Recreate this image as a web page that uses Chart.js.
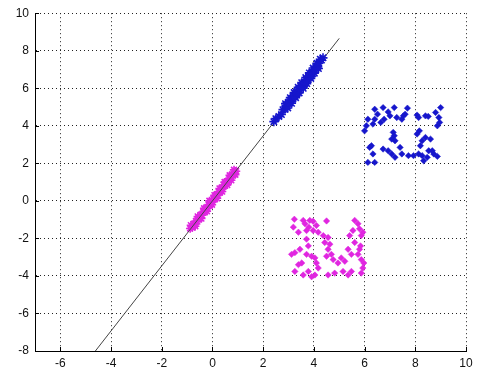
<!DOCTYPE html>
<html>
<head>
<meta charset="utf-8">
<script src="https://cdn.jsdelivr.net/npm/chart.js@4.4.0/dist/chart.umd.min.js"></script>
<style>
  html, body { margin: 0; padding: 0; background: #fff; }
</style>
</head>
<body>
<canvas id="grafico" width="480" height="374"></canvas>
<script>
const xTicks = [-6, -4, -2, 0, 2, 4, 6, 8, 10];
const yTicks = [-8, -6, -4, -2, 0, 2, 4, 6, 8, 10];

// fitted line
const lineX = [-5, 5];
const lineY = [-8.66, 8.66];

// blue asterisks along the line
const blueStarX = [2.42, 2.5, 2.62, 2.72, 2.78, 2.85, 2.88, 2.9, 2.95, 2.97, 3.0, 3.05, 3.07, 3.1, 3.12, 3.15, 3.2, 3.22, 3.25, 3.28, 3.3, 3.35, 3.38, 3.4, 3.42, 3.45, 3.5, 3.52, 3.55, 3.58, 3.6, 3.65, 3.68, 3.7, 3.72, 3.75, 3.8, 3.82, 3.85, 3.88, 3.9, 3.95, 3.97, 4.0, 4.02, 4.05, 4.1, 4.12, 4.15, 4.18, 4.2, 4.25, 4.3, 4.36];
const blueStarY = [4.22, 4.38, 4.5, 4.6, 4.86, 4.88, 5.18, 5.09, 5.06, 4.95, 5.26, 5.22, 5.5, 5.43, 5.2, 5.4, 5.6, 5.77, 5.57, 5.5, 5.78, 5.74, 6.05, 5.95, 5.75, 5.92, 6.12, 6.3, 6.09, 6.0, 6.3, 6.26, 6.57, 6.47, 6.25, 6.44, 6.64, 6.82, 6.61, 6.52, 6.81, 6.78, 7.08, 6.99, 6.8, 6.95, 7.16, 7.33, 7.13, 7.05, 7.33, 7.55, 7.5, 7.62];

// magenta asterisks along the line
const magStarX = [-0.88, -0.85, -0.8, -0.74, -0.7, -0.68, -0.65, -0.6, -0.58, -0.55, -0.5, -0.46, -0.44, -0.41, -0.36, -0.33, -0.3, -0.26, -0.22, -0.2, -0.15, -0.12, -0.1, -0.05, -0.02, 0.0, 0.04, 0.08, 0.1, 0.14, 0.18, 0.2, 0.25, 0.28, 0.3, 0.35, 0.38, 0.4, 0.45, 0.48, 0.5, 0.55, 0.58, 0.6, 0.66, 0.68, 0.7, 0.74, 0.76, 0.82, 0.85, 0.88, 0.9, 0.93];
const magStarY = [-1.47, -1.3, -1.42, -1.22, -1.27, -1.35, -1.08, -1.1, -0.83, -0.9, -0.93, -0.74, -0.94, -0.77, -0.57, -0.4, -0.58, -0.4, -0.55, -0.41, -0.2, 0.0, -0.23, -0.03, -0.2, -0.06, 0.12, 0.3, 0.11, 0.3, 0.14, 0.29, 0.49, 0.66, 0.46, 0.66, 0.5, 0.63, 0.84, 1.0, 0.81, 1.0, 0.85, 0.98, 1.2, 1.36, 1.15, 1.1, 1.37, 1.38, 1.65, 1.57, 1.4, 1.58];

// blue diamonds cluster
const blueDiaX = [6.4, 6.51, 6.73, 7.17, 7.69, 6.93, 7.0, 6.77, 6.64, 6.13, 6.33, 6.07, 6.0, 6.4, 7.27, 7.53, 7.6, 7.47, 8.07, 8.13, 8.4, 8.51, 8.8, 9.0, 8.93, 8.87, 8.96, 7.13, 7.17, 7.07, 7.2, 6.27, 6.2, 6.33, 6.73, 6.93, 7.07, 7.2, 7.4, 7.47, 7.73, 7.93, 8.13, 8.27, 8.33, 8.47, 8.53, 8.67, 8.73, 8.87, 8.2, 8.27, 8.4, 8.6, 8.16, 8.07, 6.13, 6.4];
const blueDiaY = [4.88, 4.62, 4.97, 4.97, 4.94, 4.74, 4.53, 4.35, 4.18, 4.35, 4.09, 4.0, 3.73, 4.35, 4.44, 4.53, 4.62, 4.35, 4.57, 4.44, 4.53, 4.5, 4.71, 4.97, 4.44, 4.0, 4.18, 3.65, 3.47, 3.29, 3.2, 2.94, 2.85, 2.5, 2.76, 2.67, 2.5, 2.32, 2.85, 2.5, 2.41, 2.41, 2.5, 2.41, 2.14, 2.32, 2.67, 2.67, 2.5, 2.37, 2.94, 3.2, 3.38, 3.29, 3.73, 3.56, 2.05, 2.05];

// magenta diamonds cluster
const magDiaX = [3.23, 3.19, 3.39, 3.58, 3.65, 3.84, 3.97, 3.8, 3.71, 3.97, 4.17, 4.1, 4.5, 4.37, 4.56, 4.43, 4.63, 4.56, 4.69, 4.5, 4.76, 4.95, 5.08, 5.22, 5.35, 5.48, 5.61, 5.41, 5.54, 5.61, 5.74, 5.8, 5.93, 5.87, 5.84, 5.8, 5.74, 5.87, 5.97, 5.93, 5.87, 5.48, 5.35, 5.15, 4.82, 4.56, 4.04, 3.91, 3.78, 4.17, 4.1, 4.04, 3.91, 3.71, 3.78, 3.71, 3.45, 3.25, 3.12, 3.39, 3.52, 3.25, 3.58];
const magDiaY = [-0.98, -1.4, -1.67, -1.04, -1.22, -1.04, -1.09, -1.4, -1.58, -1.58, -1.67, -1.31, -1.07, -1.85, -1.95, -2.22, -2.31, -2.58, -2.85, -2.95, -3.13, -3.31, -3.04, -3.22, -2.58, -2.85, -2.22, -1.85, -1.58, -1.04, -1.22, -1.49, -1.67, -1.85, -2.4, -2.58, -2.85, -3.13, -3.31, -3.58, -3.85, -3.76, -3.95, -3.76, -3.85, -3.95, -3.95, -4.04, -3.76, -3.58, -3.31, -3.04, -2.95, -2.85, -2.4, -2.04, -2.58, -2.76, -2.85, -3.4, -3.31, -3.76, -3.95];

const BLUE = "#1616cc";
const MAGENTA = "#e026e0";

function pts(xs, ys) {
  return xs.map((x, i) => ({ x, y: ys[i] }));
}

// MATLAB style inward ticks
const tickInside = {
  id: "tickInside",
  afterDraw(chart) {
    const { ctx, chartArea, scales } = chart;
    ctx.save();
    ctx.strokeStyle = "#000";
    ctx.lineWidth = 1;
    ctx.beginPath();
    xTicks.forEach(v => {
      const px = Math.round(scales.x.getPixelForValue(v)) + 0.5;
      ctx.moveTo(px, chartArea.bottom);
      ctx.lineTo(px, chartArea.bottom - 4);
    });
    yTicks.forEach(v => {
      const py = Math.round(scales.y.getPixelForValue(v)) + 0.5;
      ctx.moveTo(chartArea.left, py);
      ctx.lineTo(chartArea.left + 4, py);
    });
    ctx.stroke();
    ctx.restore();
  }
};

const gridOpts = {
  color: "#222",
  lineWidth: 1,
  drawTicks: false
};

new Chart(document.getElementById("grafico").getContext("2d"), {
  type: "scatter",
  data: {
    datasets: [
      {
        data: pts(blueStarX, blueStarY),
        pointStyle: "star",
        radius: 4.5,
        borderColor: BLUE,
        backgroundColor: BLUE,
        borderWidth: 1.6
      },
      {
        type: "line",
        data: pts(lineX, lineY),
        borderColor: "#444",
        borderWidth: 1,
        pointRadius: 0,
        fill: false
      },
      {
        data: pts(magStarX, magStarY),
        pointStyle: "star",
        radius: 4.2,
        borderColor: MAGENTA,
        backgroundColor: MAGENTA,
        borderWidth: 1.6
      },
      {
        data: pts(blueDiaX, blueDiaY),
        pointStyle: "rectRot",
        radius: 3.2,
        borderColor: BLUE,
        backgroundColor: BLUE,
        borderWidth: 0.5
      },
      {
        data: pts(magDiaX, magDiaY),
        pointStyle: "rectRot",
        radius: 3.2,
        borderColor: MAGENTA,
        backgroundColor: MAGENTA,
        borderWidth: 0.5
      }
    ]
  },
  options: {
    responsive: false,
    animation: false,
    layout: { padding: { left: 0, top: 11, right: 14, bottom: 0 } },
    plugins: {
      legend: { display: false },
      tooltip: { enabled: false }
    },
    scales: {
      x: {
        type: "linear",
        min: -7,
        max: 10,
        afterBuildTicks: s => { s.ticks = xTicks.map(v => ({ value: v })); },
        afterFit: s => { s.height = 23; },
        grid: { ...gridOpts },
        border: { display: true, color: "#000", width: 1, dash: [1, 3] },
        ticks: {
          color: "#111",
          padding: 5,
          maxRotation: 0,
          font: { family: "Liberation Sans, Arial", size: 12 }
        }
      },
      y: {
        type: "linear",
        min: -8,
        max: 10,
        afterBuildTicks: s => { s.ticks = yTicks.map(v => ({ value: v })); },
        afterFit: s => { s.width = 35; },
        grid: { ...gridOpts },
        border: { display: true, color: "#000", width: 1, dash: [1, 3] },
        ticks: {
          color: "#111",
          padding: 6,
          font: { family: "Liberation Sans, Arial", size: 12 }
        }
      }
    }
  },
  plugins: [tickInside]
});
</script>
</body>
</html>
